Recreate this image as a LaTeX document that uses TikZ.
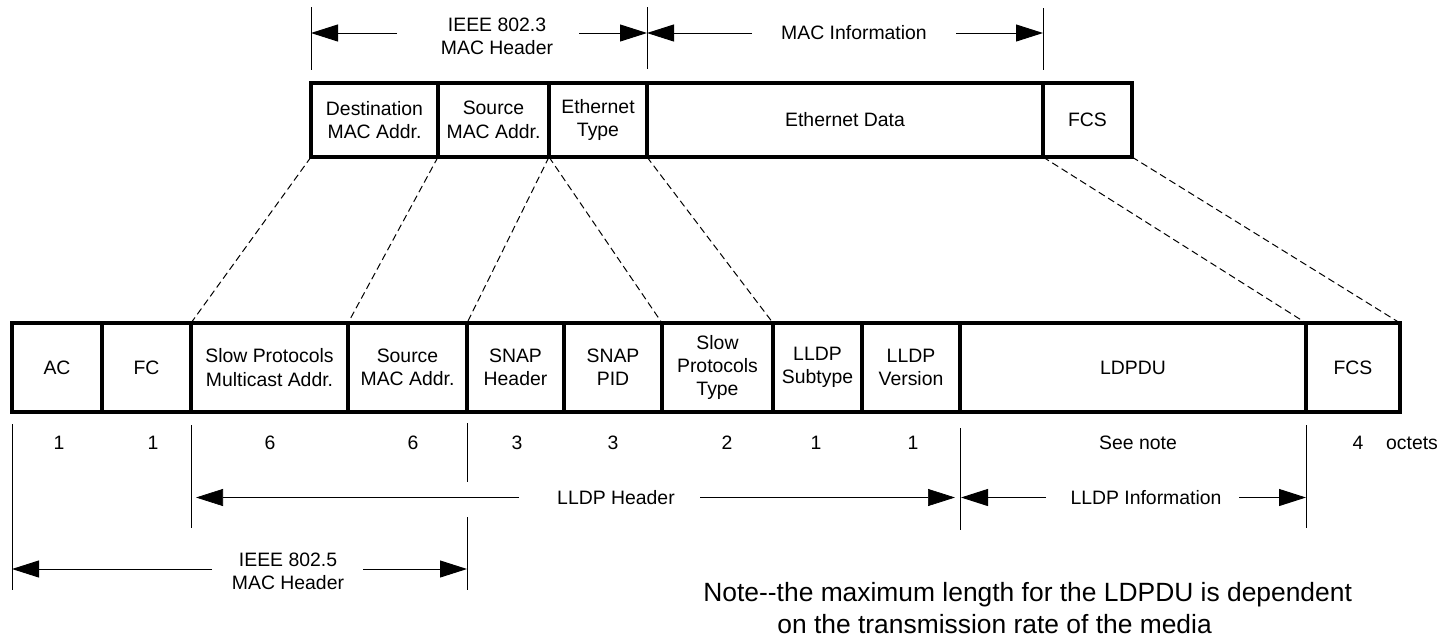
\documentclass[tikz,border=0pt]{standalone}
\usepackage{fontspec}
\setmainfont{Liberation Sans}
\usetikzlibrary{arrows.meta,positioning}

\newcommand\fieldfont{\fontsize{9.7}{11.7}\selectfont}
\newcommand\notefont{\fontsize{13.2}{16}\selectfont}

\tikzset{
  field/.style={draw, line width=1.7pt, outer sep=0pt, inner sep=0pt,
    align=center, font=\fieldfont},
  upper/.style={field, minimum height=37pt},
  lower/.style={field, minimum height=44.5pt},
  lbl/.style={inner sep=0pt, align=center, font=\fieldfont},
  tick/.style={line width=0.5pt},
  dim/.style={line width=0.5pt, -{Triangle[length=13.5pt,width=8.5pt]}},
  zoomline/.style={line width=0.5pt, dash pattern=on 3.5pt off 2pt},
}

\begin{document}
\begin{tikzpicture}[x=0.5pt, y=-0.5pt, node distance=0pt]
  \useasboundingbox (0,0) rectangle (1448,639);

  % IEEE 802.3 frame
  \node[upper, minimum width=63.5pt, anchor=north west] (dst) at (311,83) {Destination\\MAC Addr.};
  \node[upper, minimum width=55.5pt, right=of dst] (src) {Source\\MAC Addr.};
  \node[upper, minimum width=49pt, right=of src] (etype) {Ethernet\\Type};
  \node[upper, minimum width=198pt, right=of etype] (edata) {Ethernet Data};
  \node[upper, minimum width=44.5pt, right=of edata] (fcs) {FCS};

  % IEEE 802.5 frame
  \node[lower, minimum width=45pt, anchor=north west] (ac) at (12,323) {AC};
  \node[lower, minimum width=44.5pt, right=of ac] (fc) {FC};
  \node[lower, minimum width=78.5pt, right=of fc] (mcast) {Slow Protocols\\Multicast Addr.};
  \node[lower, minimum width=59.5pt, right=of mcast] (lsrc) {Source\\MAC Addr.};
  \node[lower, minimum width=48.5pt, right=of lsrc] (snaph) {SNAP\\Header};
  \node[lower, minimum width=49pt, right=of snaph] (snappid) {SNAP\\PID};
  \node[lower, minimum width=55.5pt, right=of snappid] (sptype) {Slow\\Protocols\\Type};
  \node[lower, minimum width=44.5pt, right=of sptype] (subtype) {LLDP\\Subtype};
  \node[lower, minimum width=49pt, right=of subtype] (version) {LLDP\\Version};
  \node[lower, minimum width=173pt, right=of version] (ldpdu) {LDPDU};
  \node[lower, minimum width=47pt, right=of ldpdu] (lfcs) {FCS};

  % mapping between the frames
  \draw[zoomline] (dst.south west) -- (mcast.north west);
  \draw[zoomline] (src.south west) -- (lsrc.north west);
  \draw[zoomline] (etype.south west) -- (snaph.north west);
  \draw[zoomline] (etype.south west) -- (snappid.north east);
  \draw[zoomline] (edata.south west) -- (sptype.north east);
  \draw[zoomline] (fcs.south west) -- (ldpdu.north east);
  \draw[zoomline] (fcs.south east) -- (lfcs.north east);

  % octet counts
  \node[lbl] (len-ac) at (59,443) {1};
  \node[lbl] (len-fc) at (153,443) {1};
  \node[lbl] (len-mcast) at (270,443) {6};
  \node[lbl] (len-lsrc) at (413,443) {6};
  \node[lbl] (len-snaph) at (517,443) {3};
  \node[lbl] (len-snappid) at (613,443) {3};
  \node[lbl] (len-sptype) at (727,443) {2};
  \node[lbl] (len-subtype) at (816,443) {1};
  \node[lbl] (len-version) at (913,443) {1};
  \node[lbl] (len-ldpdu) at (1138,443) {See note};
  \node[lbl] (len-lfcs) at (1358,443) {4};
  \node[lbl] (octets) at (1412,443) {octets};

  % top dimensions
  \draw[tick] (311,7) -- (311,70);
  \draw[tick] (647,7) -- (647,69);
  \draw[tick] (1043,8) -- (1043,70);
  \coordinate (d3-l) at (311,33);
  \coordinate (d3-r) at (647,33);
  \coordinate (mi-r) at (1043,33);
  \coordinate (d3-a) at (397,33);
  \coordinate (d3-b) at (579,33);
  \coordinate (mi-a) at (752,33);
  \coordinate (mi-b) at (956,33);
  \node[lbl] (hdr3) at (497,36.5) {IEEE 802.3\\MAC Header};
  \node[lbl] (macinfo) at (854,33) {MAC Information};
  \draw[dim] (d3-a) -- (d3-l);
  \draw[dim] (d3-b) -- (d3-r);
  \draw[dim] (mi-a) -- (d3-r);
  \draw[dim] (mi-b) -- (mi-r);

  % bottom dimensions
  \draw[tick] (12,424) -- (12,590);
  \draw[tick] (191,425) -- (191,528);
  \draw[tick] (467,423) -- (467,482);
  \draw[tick] (467,517) -- (467,590);
  \draw[tick] (960,428) -- (960,530);
  \draw[tick] (1306,425) -- (1306,528);
  \coordinate (lh-l) at (196,497.5);
  \coordinate (lh-r) at (955,497.5);
  \coordinate (lh-a) at (519,497.5);
  \coordinate (lh-b) at (700,497.5);
  \coordinate (li-l) at (961,497.5);
  \coordinate (li-r) at (1306,497.5);
  \coordinate (li-a) at (1046,497.5);
  \coordinate (li-b) at (1239,497.5);
  \coordinate (d5-l) at (12,569);
  \coordinate (d5-r) at (467,569);
  \coordinate (d5-a) at (212,569);
  \coordinate (d5-b) at (363,569);
  \node[lbl] (lldphdr) at (616,497.5) {LLDP Header};
  \node[lbl] (lldpinfo) at (1146,497.5) {LLDP Information};
  \node[lbl] (hdr5) at (288,571.5) {IEEE 802.5\\MAC Header};
  \draw[dim, line width=0.35pt] (lh-a) -- (lh-l);
  \draw[dim, line width=0.35pt] (lh-b) -- (lh-r);
  \draw[dim] (li-a) -- (li-l);
  \draw[dim] (li-b) -- (li-r);
  \draw[dim] (d5-a) -- (d5-l);
  \draw[dim] (d5-b) -- (d5-r);

  \node[inner sep=0pt, align=left, font=\notefont, anchor=base west] (note) at (703,633)
    {Note{-}{-}the maximum length for the LDPDU is dependent\\
     \hspace*{37pt}on the transmission rate of the media};
\end{tikzpicture}
\end{document}
